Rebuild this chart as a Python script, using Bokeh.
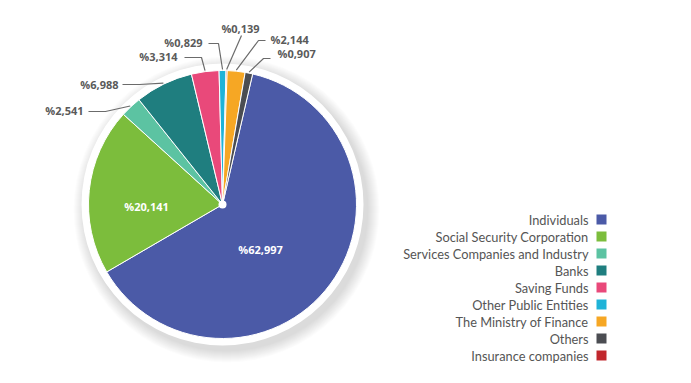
import numpy as np
from bokeh.plotting import figure
from bokeh.models import Range1d, ColumnDataSource
from bokeh.core.properties import value
from bokeh.embed import file_html
from bokeh.resources import INLINE

# ---- data ----
categories = ["Individuals", "Social Security Corporation", "Services Companies and Industry",
              "Banks", "Saving Funds", "Other Public Entities", "The Ministry of Finance",
              "Others", "Insurance companies"]
shares = [62.997, 20.141, 2.541, 6.988, 3.314, 0.829, 2.144, 0.907, 0.139]
share_labels = ["%62,997", "%20,141", "%2,541", "%6,988", "%3,314", "%0,829", "%2,144", "%0,907", "%0,139"]
colors = ["#4b5aa7", "#7cbd3c", "#5cc3a2", "#1f7e7f", "#e9497a", "#1fb3d8", "#f6a724", "#4b4d52", "#c1272d"]
# clockwise drawing order of slices starting near 12 o'clock
pie_order = [0, 1, 2, 3, 4, 5, 8, 6, 7]

# ---- layout (screen pixel coords, y measured from top) ----
W, H = 675, 367
CX, CY = 222, 204
R = 134
R_RING = 141
THETA0 = 13.0  # degrees clockwise from top where first slice begins


def Y(y_img):
    return H - np.asarray(y_img, dtype=float)


p = figure(width=W, height=H, output_backend="svg", toolbar_location=None,
           x_range=Range1d(0, W), y_range=Range1d(0, H),
           x_axis_type=None, y_axis_type=None, min_border=0)
p.grid.visible = False
p.outline_line_color = None
p.background_fill_color = "white"
p.border_fill_color = "white"

# shadow of the white ring
for k in range(12):
    p.circle(x=CX + 4, y=Y(CY + 5), radius=R_RING + 12 - k,
             fill_color="#000000", fill_alpha=0.012, line_color=None)
p.circle(x=CX, y=Y(CY), radius=R_RING, fill_color="white", line_color=None)

# wedges
vals = np.array([shares[i] for i in pie_order])
cum = np.concatenate([[0], np.cumsum(vals)]) / vals.sum() * 360.0
th_s = THETA0 + cum[:-1]
th_e = THETA0 + cum[1:]
src = ColumnDataSource(dict(
    start=np.radians(90 - th_s), end=np.radians(90 - th_e),
    color=[colors[i] for i in pie_order]))
p.wedge(x=CX, y=Y(CY), radius=R, start_angle="start", end_angle="end",
        direction="clock", fill_color="color", line_color="white", line_width=1, source=src)
p.circle(x=CX, y=Y(CY), radius=4, fill_color="white", line_color=None)

mid = {pie_order[k]: (th_s[k] + th_e[k]) / 2 for k in range(len(pie_order))}

# inside labels (Individuals, Social Security)
inner = {0: (260, 249), 1: (146, 206)}
p.text(x=[inner[i][0] for i in inner], y=Y([inner[i][1] for i in inner]),
       text=[share_labels[i] for i in inner], text_align="center", text_baseline="middle",
       text_font=value("Open Sans"), text_font_style="bold", text_font_size="11px",
       text_color="white")

# outside labels: idx -> (text x, text y, align, line x0, elbow x, line y)
outer = {
    2: (83, 110, "right", 88, 105, 111),
    3: (118, 84, "right", 122, 139, 84),
    4: (177, 56, "right", 184, 201, 57),
    5: (202, 42, "right", 208, 218, 43),
    8: (240, 28, "center", 241, 241, 35),
    6: (270, 39, "left", 265, 258, 40),
    7: (277, 53, "left", 270, 263, 58),
}
xs, ys = [], []
for i, (tx, ty, al, x0, xe, ly) in outer.items():
    a = np.radians(mid[i])
    ex = CX + (R + 1) * np.sin(a)
    ey = CY - (R + 1) * np.cos(a)
    xs.append([x0, xe, ex])
    ys.append(list(Y([ly, ly, ey])))
p.multi_line(xs=xs, ys=ys, line_color="#6b6b6b", line_width=1.2)
for i, (tx, ty, al, x0, xe, ly) in outer.items():
    p.text(x=[tx], y=Y([ty]), text=[share_labels[i]], text_align=al, text_baseline="middle",
           text_font=value("Open Sans"), text_font_style="bold", text_font_size="11px",
           text_color="#5a5a5a")

# legend
rows = np.arange(len(categories))
ly = Y(219 + 17 * rows)
p.text(x=[588] * len(categories), y=ly, text=categories, text_align="right",
       text_baseline="middle", text_font=value("Lato"), text_font_size="12.8px",
       text_color="#555555")
p.scatter(x=[601] * len(categories), y=ly, marker="square", size=10,
          fill_color=colors, line_color=None)

open("out.html", "w").write(file_html(p, INLINE))
